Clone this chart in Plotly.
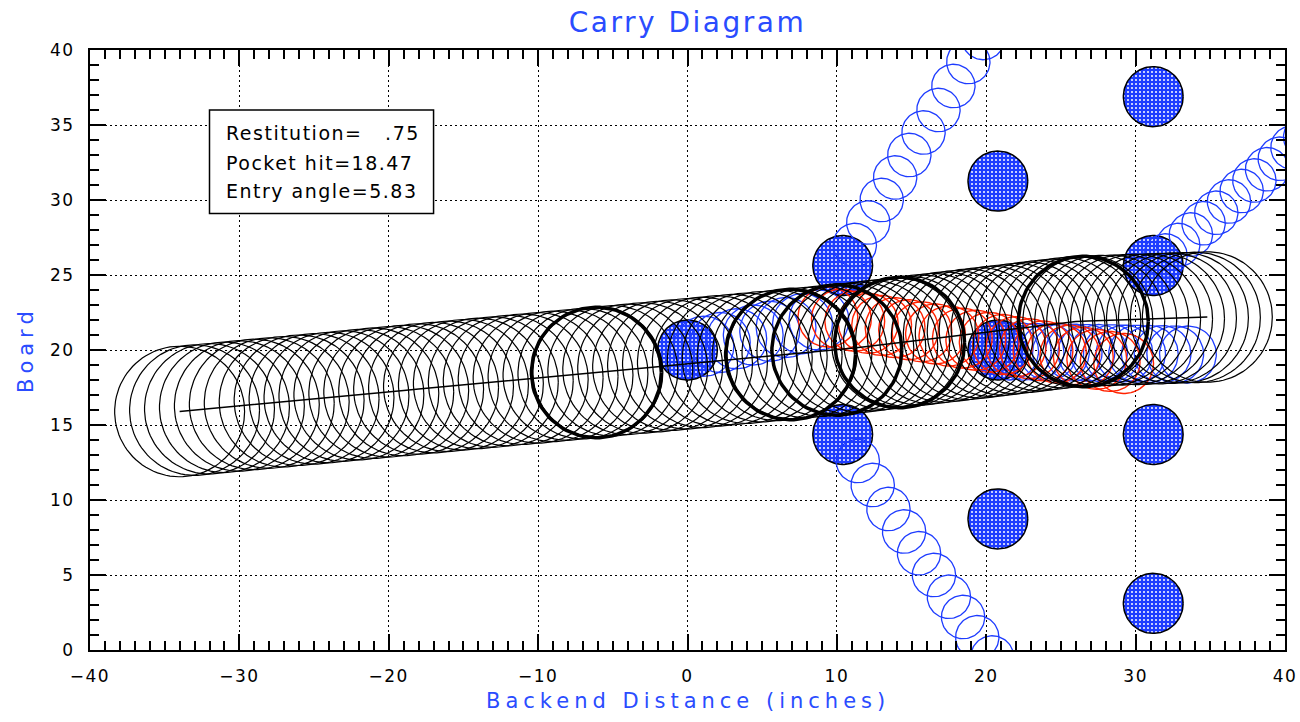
import numpy as np
import plotly.graph_objects as go

# ---------------- data ----------------
# pin deck (x: backend distance in inches, y: board)
pin_x = [0.0, 10.39, 10.39, 20.78, 20.78, 20.78, 31.18, 31.18, 31.18, 31.18]
pin_y = [20.0, 25.63, 14.37, 31.26, 20.0, 8.74, 36.89, 25.63, 14.37, 3.11]

# ball positions
ball_x = [-34, -33, -32, -31, -30, -29, -28, -27, -26, -25, -24, -23, -22, -21, -20,
          -19, -18, -17, -16, -15, -14, -13, -12, -11, -10, -9, -8, -7, -6, -5, -4,
          -3, -2, -1, 0, 1, 2, 3, 4, 5, 6, 7, 8, 9, 10,
          10.8, 11.6, 12.4, 13.2, 14.0, 14.8, 15.6, 16.4, 17.2, 18.0, 18.8, 19.6,
          20.4, 21.2, 22.0, 22.8, 23.6, 24.4, 25.2, 26.0, 26.8, 27.6, 28.4, 29.2,
          30.0, 30.8, 31.6, 32.4, 33.2, 34.0, 34.8]
ball_y = [15.90, 15.99, 16.08, 16.18, 16.27, 16.37, 16.46, 16.55, 16.65, 16.74, 16.83,
          16.93, 17.02, 17.12, 17.21, 17.30, 17.40, 17.49, 17.58, 17.68, 17.77, 17.86,
          17.96, 18.05, 18.14, 18.24, 18.33, 18.42, 18.52, 18.61, 18.71, 18.80, 18.89,
          18.99, 19.08, 19.17, 19.27, 19.36, 19.45, 19.55, 19.64, 19.73, 19.83, 19.92,
          20.01,
          20.10, 20.19, 20.29, 20.38, 20.48, 20.57, 20.67, 20.76, 20.86, 20.95, 21.05,
          21.14, 21.24, 21.33, 21.43, 21.52, 21.62, 21.71, 21.81, 21.90, 21.93, 21.96,
          21.98, 22.01, 22.04, 22.06, 22.09, 22.12, 22.15, 22.17, 22.20]

# ball positions at impacts (highlighted)
impact_x = [-6.1, 6.9, 10.0, 14.2, 26.5]
impact_y = [18.5, 19.7, 20.0, 20.5, 21.9]

# headpin path
head_x = [1.1, 2.2, 3.3, 4.4, 5.5, 6.6, 7.7, 8.8]
head_y = [20.25, 20.5, 20.75, 21.0, 21.25, 21.5, 21.75, 22.0]

# red pin path
red_x = [9.4, 10.3, 11.2, 12.1, 13.0, 13.9, 14.8, 15.7, 16.6, 17.5, 18.4, 19.3, 20.2,
         21.1, 22.0, 22.9, 23.8, 24.7, 25.6, 26.5, 27.4, 28.3, 29.2]
red_y = [22.20, 22.06, 21.92, 21.78, 21.64, 21.49, 21.35, 21.21, 21.07, 20.93, 20.79,
         20.65, 20.51, 20.37, 20.22, 20.08, 19.94, 19.80, 19.66, 19.52, 19.38, 19.24,
         19.10]

# 5-pin path
p5_x = [21.6, 22.45, 23.3, 24.15, 25.0, 25.85, 26.7, 27.55, 28.4, 29.25, 30.1, 30.95,
        31.8, 32.65, 33.5]
p5_y = [19.90, 19.89, 19.87, 19.86, 19.84, 19.83, 19.81, 19.80, 19.79, 19.77, 19.76,
        19.74, 19.73, 19.71, 19.70]

# 2-pin path (up)
p2_x = [11.2, 12.1, 13.0, 13.9, 14.85, 15.8, 16.8, 17.8, 18.8, 19.8, 20.8]
p2_y = [27.0, 28.5, 30.0, 31.5, 33.0, 34.5, 36.0, 37.6, 39.2, 40.8, 42.4]

# 3-pin path (down)
p3_x = [11.4, 12.4, 13.45, 14.5, 15.5, 16.5, 17.5, 18.45, 19.4, 20.4, 21.4]
p3_y = [12.6, 11.0, 9.4, 7.9, 6.45, 5.0, 3.55, 2.2, 0.85, -0.5, -1.9]

# 8-pin path (up-right)
p8_x = [32.0, 32.85, 33.7, 34.55, 35.4, 36.25, 37.1, 37.95, 38.8, 39.65, 40.5, 41.35]
p8_y = [26.3, 27.0, 27.7, 28.45, 29.15, 29.9, 30.6, 31.3, 32.05, 32.75, 33.5, 34.2]

info_lines = ["Restitution=\u00a0\u00a0\u00a0.75", "Pocket hit=18.47", "Entry angle=5.83"]

x_ticks = [-40, -30, -20, -10, 0, 10, 20, 30, 40]
y_ticks = [0, 5, 10, 15, 20, 25, 30, 35, 40]

BALL_R = 4.35
PIN_R = 2.0
FLY_R = 1.45
BLUE = "#1e3cff"
TXT_BLUE = "#2a4cff"
RED = "#ff2200"
FONT = "DejaVu Sans"

FIG_W, FIG_H = 1300, 722


def rings(xs, ys, r, n=96):
    t = np.linspace(0, 2 * np.pi, n)
    X, Y = [], []
    for cx, cy in zip(xs, ys):
        X += list(cx + r * np.cos(t)) + [None]
        Y += list(cy + r * np.sin(t)) + [None]
    return X, Y


def ls(text, px):
    return '<span style="letter-spacing:%spx">%s</span>' % (px, text)


fig = go.Figure()

# pins (filled, stippled)
X, Y = rings(pin_x, pin_y, PIN_R)
fig.add_trace(go.Scatter(x=X, y=Y, mode="lines", fill="toself",
                         fillcolor=BLUE,
                         fillpattern=dict(shape=".", fgcolor="white", bgcolor=BLUE,
                                          size=4, solidity=0.2, fillmode="replace"),
                         line=dict(color="black", width=1.5), hoverinfo="skip"))

# blue flying pins
for xs, ys, r in [(p2_x, p2_y, FLY_R), (p3_x, p3_y, FLY_R), (p8_x, p8_y, FLY_R),
                  (head_x, head_y, PIN_R), (p5_x, p5_y, 1.9)]:
    X, Y = rings(xs, ys, r)
    fig.add_trace(go.Scatter(x=X, y=Y, mode="lines", line=dict(color=BLUE, width=1.3),
                             hoverinfo="skip"))

# red pin
X, Y = rings(red_x, red_y, PIN_R)
fig.add_trace(go.Scatter(x=X, y=Y, mode="lines", line=dict(color=RED, width=1.4),
                         hoverinfo="skip"))

# ball
X, Y = rings(ball_x, ball_y, BALL_R)
fig.add_trace(go.Scatter(x=X, y=Y, mode="lines", line=dict(color="black", width=1.2),
                         hoverinfo="skip"))
X, Y = rings(impact_x, impact_y, BALL_R)
fig.add_trace(go.Scatter(x=X, y=Y, mode="lines", line=dict(color="black", width=3.5),
                         hoverinfo="skip"))
fig.add_trace(go.Scatter(x=ball_x, y=ball_y, mode="lines",
                         line=dict(color="black", width=1.5), hoverinfo="skip"))

# info box
fig.add_shape(type="rect", xref="x", yref="y", x0=-32.0, x1=-17.0, y0=29.1, y1=36.0,
              line=dict(color="black", width=1.5), fillcolor="white", layer="above")
for txt, yy in zip(info_lines, [34.45, 32.5, 30.6]):
    fig.add_annotation(x=-31.0, y=yy, xref="x", yref="y", text=ls(txt, 1.5),
                       showarrow=False, xanchor="left", yanchor="middle",
                       font=dict(family=FONT, size=19, color="black"))

# axis titles
fig.add_annotation(x=0.5, y=-(701 - 650) / 600, xref="paper", yref="paper",
                   text=ls("Backend Distance (inches)", 5), showarrow=False,
                   xanchor="center", yanchor="middle",
                   font=dict(family=FONT, size=21, color=TXT_BLUE))
fig.add_annotation(x=(26 - 90) / 1195, y=0.5, xref="paper", yref="paper",
                   text=ls("Board", 5), showarrow=False, textangle=-90,
                   xanchor="center", yanchor="middle",
                   font=dict(family=FONT, size=21, color=TXT_BLUE))

axis_common = dict(showline=True, linecolor="black", linewidth=2, mirror="ticks",
                   ticks="inside", ticklen=16, tickwidth=2, tickcolor="black",
                   showgrid=True, gridcolor="black", gridwidth=1, griddash="2px,3px",
                   zeroline=False, ticklabelstandoff=10, automargin=False,
                   tickfont=dict(family=FONT, size=17, color="black"),
                   minor=dict(dtick=1, ticks="inside", ticklen=9, tickwidth=2,
                              tickcolor="black", showgrid=False))

fig.update_xaxes(range=[-40, 40], tickvals=x_ticks,
                 ticktext=[ls(str(v).replace("-", "\u2212"), 1.5) for v in x_ticks],
                 **axis_common)
fig.update_yaxes(range=[0, 40], tickvals=y_ticks,
                 ticktext=[ls(str(v), 1.5) for v in y_ticks], **axis_common)

fig.update_layout(
    width=FIG_W, height=FIG_H,
    margin=dict(l=90, r=15, t=50, b=72, autoexpand=False),
    paper_bgcolor="white", plot_bgcolor="white",
    showlegend=False,
    title=dict(text=ls("Carry Diagram", 2.5), x=0.5, xref="paper", xanchor="center",
               y=1 - 22 / FIG_H, yref="container", yanchor="middle",
               font=dict(family=FONT, size=28, color=TXT_BLUE)),
)

# remove the default page margin so the 1300x722 figure fills the window exactly
fig.write_html("out.html", config={"displayModeBar": False},
               post_script="document.body.style.margin='0px';"
                           "document.body.style.overflow='hidden';")
